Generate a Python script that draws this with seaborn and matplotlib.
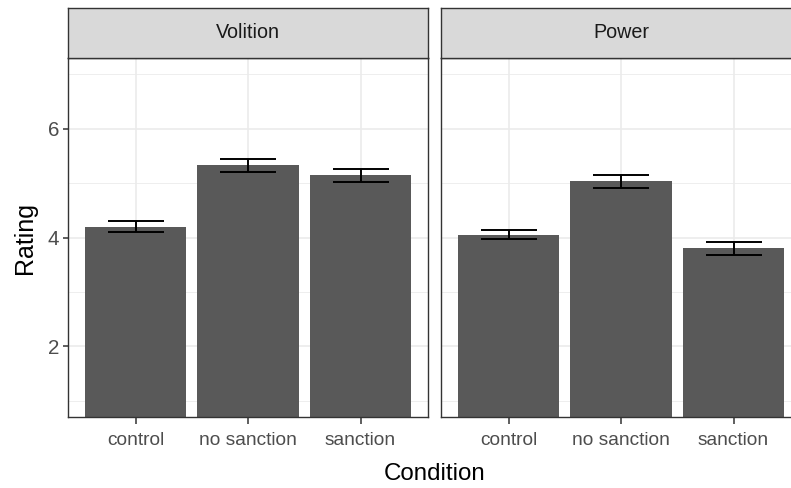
import matplotlib
matplotlib.use("Agg")
import matplotlib.pyplot as plt
import seaborn as sns
import pandas as pd
from matplotlib import font_manager

# ---- data ----
facets = ["Volition", "Power"]
conditions = ["control", "no sanction", "sanction"]
volition_means = [4.20, 5.33, 5.14]
volition_errors = [0.105, 0.117, 0.124]
power_means = [4.05, 5.03, 3.80]
power_errors = [0.08, 0.117, 0.12]
y_major_ticks = [2, 4, 6]
y_minor_ticks = [1, 3, 5, 7]
x_title = "Condition"
y_title = "Rating"

means = {"Volition": volition_means, "Power": power_means}
errors = {"Volition": volition_errors, "Power": power_errors}

sns.set_theme(style="white")
plt.rcParams["font.family"] = ["Liberation Sans", "DejaVu Sans"]

installed = {f.name for f in font_manager.fontManager.ttflist}
if "Liberation Sans Narrow" in installed:
    narrow_family = ["Liberation Sans Narrow", "Liberation Sans", "DejaVu Sans"]
    small = 16.5
    big = 20.6
else:
    narrow_family = ["Liberation Sans", "DejaVu Sans"]
    small = 13.8
    big = 17.4

W, H = 791, 488
fig = plt.figure(figsize=(W / 100, H / 100), dpi=100)

panel_lefts = [68, 441]
panel_w = 360
panel_bottom = 417
panel_top = 58
strip_top = 8

border_col = "#333333"
grid_col = "#EBEBEB"

for i, facet in enumerate(facets):
    l = panel_lefts[i]
    ax = fig.add_axes([l / W, (H - panel_bottom) / H, panel_w / W,
                       (panel_bottom - panel_top) / H])
    df = pd.DataFrame({"Condition": conditions, "Rating": means[facet]})
    sns.barplot(data=df, x="Condition", y="Rating", order=conditions,
                color="#595959", saturation=1, width=0.9, errorbar=None,
                edgecolor="none", ax=ax, zorder=2)
    ax.errorbar(x=list(range(len(conditions))), y=means[facet],
                yerr=errors[facet], fmt="none", ecolor="black",
                elinewidth=1.4, capsize=20, capthick=1.4, zorder=3)
    ax.set_xlim(-0.6, len(conditions) - 0.4)
    ax.set_ylim(0.7, 7.3)
    ax.set_yticks(y_major_ticks)
    ax.set_yticks(y_minor_ticks, minor=True)
    ax.set_axisbelow(True)
    ax.grid(True, which="major", color=grid_col, linewidth=1.2, zorder=0)
    ax.grid(True, which="minor", axis="y", color=grid_col, linewidth=0.6, zorder=0)
    ax.set_xlabel("")
    ax.set_ylabel("")
    for s in ax.spines.values():
        s.set_visible(True)
        s.set_color(border_col)
        s.set_linewidth(1.0)
    ax.tick_params(axis="x", which="major", bottom=True, length=5, width=1.1,
                   color=border_col, labelsize=small, labelcolor="#4D4D4D", pad=6)
    for t in ax.get_xticklabels():
        t.set_family(narrow_family)
    ax.tick_params(axis="y", which="minor", left=False, length=0)
    if i == 0:
        ax.tick_params(axis="y", which="major", left=True, length=3.4, width=1.1,
                       color=border_col, labelsize=small + 1, labelcolor="#4D4D4D", pad=3)
        for t in ax.get_yticklabels():
            t.set_family(narrow_family)
    else:
        ax.tick_params(axis="y", which="major", left=False, labelleft=False)

    sax = fig.add_axes([l / W, (H - panel_top) / H, panel_w / W,
                        (panel_top - strip_top) / H])
    sax.set_facecolor("#D9D9D9")
    sax.set_xticks([])
    sax.set_yticks([])
    for s in sax.spines.values():
        s.set_visible(True)
        s.set_color(border_col)
        s.set_linewidth(1.0)
    sax.text(0.5, 0.5, facet, ha="center", va="center", fontsize=small + 0.4,
             color="#1A1A1A", family=narrow_family, transform=sax.transAxes)

fig.text(25 / W, 1 - ((panel_bottom + panel_top) / 2) / H, y_title,
         rotation=90, ha="center", va="center", fontsize=18,
         family=["Liberation Sans", "DejaVu Sans"], color="black")
fig.text(435 / W, 1 - 474 / H, x_title, ha="center", va="center",
         fontsize=big, family=narrow_family, color="black")

fig.savefig("out.png", dpi=100)
